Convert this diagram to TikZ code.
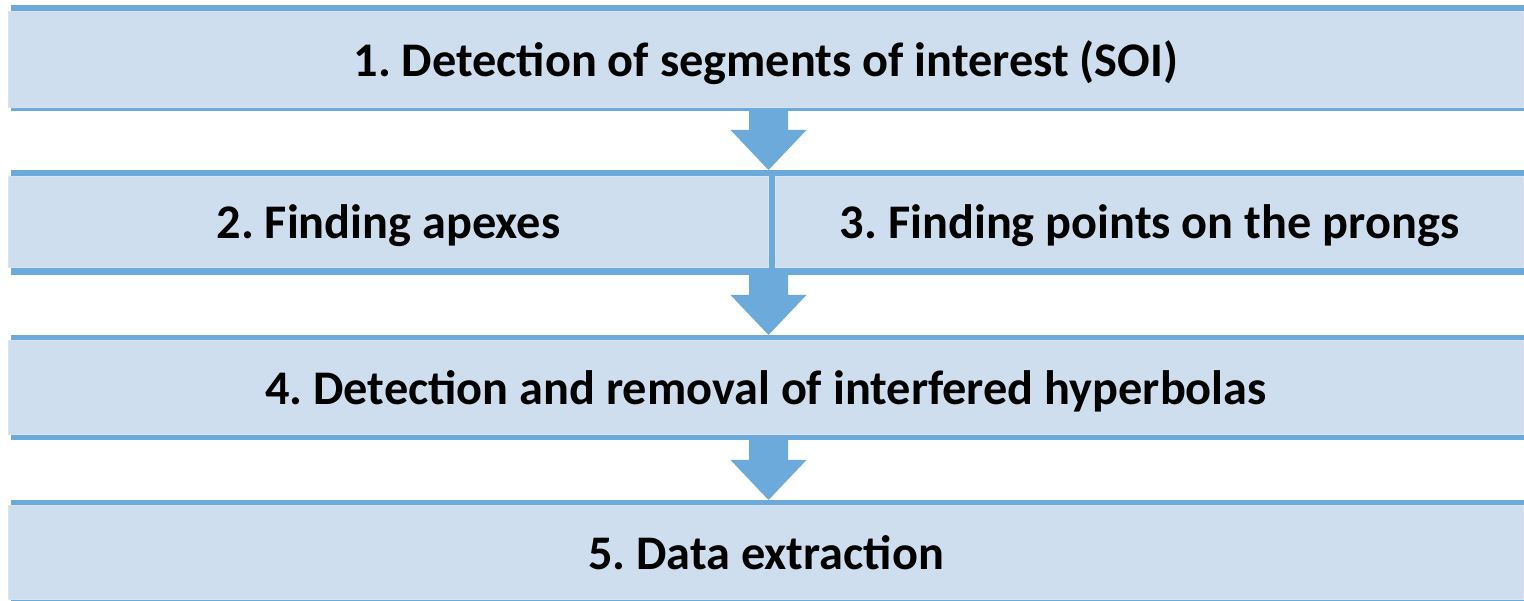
\documentclass[tikz,border=0pt]{standalone}
\usepackage{fontspec}
\setmainfont{Carlito}
\usetikzlibrary{calc}
\definecolor{barblue}{RGB}{108,170,220}
\definecolor{boxfill}{RGB}{207,222,238}
\definecolor{boxedge}{RGB}{218,228,241}
\frenchspacing
\begin{document}
\begin{tikzpicture}[x=1pt,y=-1pt,
  bar/.style={fill=barblue, draw=none, inner sep=0pt, outer sep=0pt, anchor=north west},
  panel/.style={fill=boxfill, draw=boxedge, line width=1pt, inner sep=0pt, outer sep=0pt,
    anchor=north west, font=\fontsize{48.3}{52}\selectfont\bfseries, text height=34pt, text depth=0pt},
  flow/.style={fill=barblue, draw=none}]
\useasboundingbox (0,0) rectangle (1524,601);
% box 1
\node[bar, minimum width=1513pt, minimum height=106pt] (bar1) at (11,5) {};
\node[panel, minimum width=1515pt, minimum height=96pt] (p1) at (8.5,11.5) {1. Detection of segments of interest (SOI)};
% box 2/3
\node[bar, minimum width=1513pt, minimum height=105pt] (bar2) at (11,170) {};
\node[panel, minimum width=760pt, minimum height=91pt] (p2) at (8.5,176.5) {2. Finding apexes};
\node[panel, minimum width=748pt, minimum height=91pt] (p3) at (775.5,176.5) {3. Finding points on the prongs};
% box 4
\node[bar, minimum width=1513pt, minimum height=105pt] (bar4) at (11,335) {};
\node[panel, minimum width=1515pt, minimum height=94pt] (p4) at (8.5,340.5) {4. Detection and removal of interfered hyperbolas};
% box 5
\node[bar, minimum width=1513pt, minimum height=105pt] (bar5) at (11,500) {};
\node[panel, minimum width=1515pt, minimum height=94pt] (p5) at (8.5,505.5) {5. Data extraction};
% arrows
\coordinate (a1) at (bar1.south -| p2.north east);
\fill[flow] ($(a1)+(-19.5,-1)$) -- ($(a1)+(19.5,-1)$) -- ($(a1)+(19.5,19)$) -- ($(a1)+(38,19)$)
  -- (a1 |- bar2.north) -- ($(a1)+(-38,19)$) -- ($(a1)+(-19.5,19)$) -- cycle;
\coordinate (a2) at (bar2.south -| p2.north east);
\fill[flow] ($(a2)+(-19.5,-1)$) -- ($(a2)+(19.5,-1)$) -- ($(a2)+(19.5,20)$) -- ($(a2)+(38,20)$)
  -- (a2 |- bar4.north) -- ($(a2)+(-38,20)$) -- ($(a2)+(-19.5,20)$) -- cycle;
\coordinate (a3) at (bar4.south -| p2.north east);
\fill[flow] ($(a3)+(-19.5,-1)$) -- ($(a3)+(19.5,-1)$) -- ($(a3)+(19.5,20)$) -- ($(a3)+(38,20)$)
  -- (a3 |- bar5.north) -- ($(a3)+(-38,20)$) -- ($(a3)+(-19.5,20)$) -- cycle;
\end{tikzpicture}
\end{document}
